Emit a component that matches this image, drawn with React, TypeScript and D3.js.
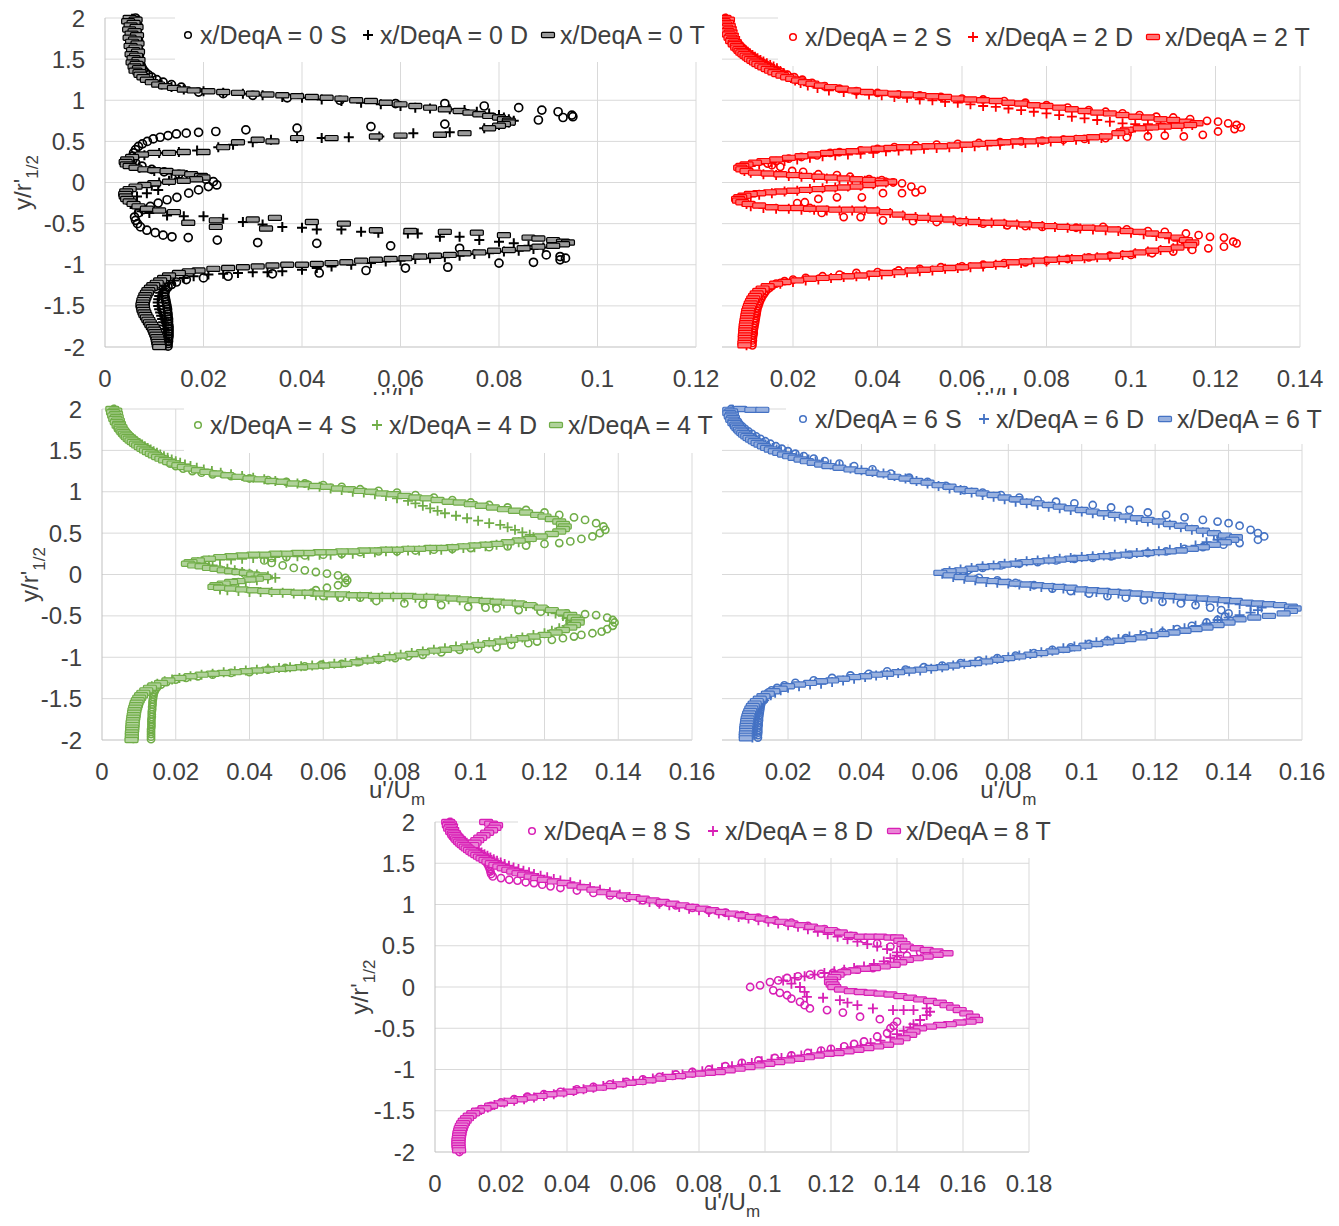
import React from "react";
import * as d3 from "d3";

// Each series: flat list u, y, u, y, ... (u = u'/Um, y = y/r'1/2).

// ---------- x/DeqA = 0 (black) ----------
const S0 = [0.0062,2.00,0.0066,1.97,0.0060,1.94,0.0067,1.91,0.0061,1.88,0.0066,1.85,0.0062,1.82,0.0067,1.79,0.0063,1.76,0.0068,1.73,0.0064,1.70,0.0068,1.67,0.0065,1.64,0.0069,1.61,0.0066,1.58,0.0070,1.55,0.0068,1.52,0.0071,1.49,0.0070,1.46,0.0073,1.43,0.0075,1.40,0.0078,1.37,0.0082,1.34,0.0088,1.31,0.0095,1.28,0.0105,1.25,0.0118,1.22,0.0135,1.19,0.0155,1.16,
0.0190,1.10,0.0240,1.08,0.0300,1.06,0.0370,1.03,0.0477,1.00,0.0590,0.96,0.0690,0.96,0.0770,0.93,0.0840,0.91,0.0887,0.88,0.0920,0.86,0.0948,0.82,0.0950,0.80,0.0930,0.79,0.0880,0.76,0.0690,0.71,0.0540,0.68,0.0390,0.66,0.0286,0.64,0.0225,0.62,0.0190,0.61,0.0165,0.60,0.0145,0.59,0.0128,0.57,0.0112,0.55,0.0098,0.53,0.0086,0.50,0.0076,0.47,0.0068,0.44,0.0062,0.40,0.0058,0.36,0.0056,0.32,0.0057,0.28,0.0062,0.24,0.0075,0.20,0.0095,0.16,0.0120,0.13,0.0150,0.10,0.0180,0.07,0.0205,0.04,0.0220,0.01,0.0227,-0.03,0.0210,-0.05,0.0190,-0.09,0.0170,-0.13,0.0146,-0.18,0.0126,-0.21,0.0108,-0.25,0.0092,-0.29,0.0078,-0.33,0.0068,-0.37,0.0060,-0.42,0.0062,-0.46,0.0066,-0.50,0.0072,-0.54,0.0085,-0.58,0.0102,-0.61,0.0118,-0.64,0.0136,-0.66,0.0169,-0.67,0.0228,-0.70,0.0310,-0.73,0.0430,-0.74,0.0580,-0.77,0.0720,-0.80,0.0896,-0.88,0.0924,-0.90,0.0935,-0.92,0.0924,-0.94,0.0870,-0.97,0.0800,-0.98,0.0696,-1.03,0.0610,-1.04,0.0530,-1.07,0.0435,-1.10,0.0340,-1.11,0.0250,-1.14,0.0200,-1.16,
0.0165,-1.18,0.0145,-1.21,0.0135,-1.24,0.0128,-1.27,0.0124,-1.30,0.0122,-1.33,0.0121,-1.36,0.0122,-1.39,0.0123,-1.42,0.0124,-1.45,0.0125,-1.48,0.0126,-1.51,0.0127,-1.54,0.0127,-1.57,0.0128,-1.60,0.0128,-1.63,0.0129,-1.66,0.0129,-1.69,0.0129,-1.72,0.0130,-1.75,0.0130,-1.78,0.0130,-1.81,0.0130,-1.84,0.0130,-1.87,0.0129,-1.90,0.0129,-1.93,0.0128,-1.96,0.0128,-1.99];
const D0 = [0.0055,1.99,0.0048,1.95,0.0060,1.91,0.0052,1.87,0.0058,1.83,0.0050,1.79,0.0060,1.75,0.0053,1.71,0.0061,1.67,0.0055,1.63,0.0062,1.59,0.0057,1.55,0.0063,1.51,0.0059,1.47,0.0065,1.43,0.0068,1.39,0.0072,1.35,0.0078,1.31,0.0086,1.27,0.0098,1.23,0.0115,1.19,0.0135,1.16,0.0160,1.13,
0.020,1.11,0.024,1.09,0.028,1.08,0.032,1.06,0.036,1.04,0.040,1.03,0.044,1.01,0.048,0.99,0.052,0.97,0.056,0.95,0.060,0.93,0.063,0.91,0.066,0.90,0.070,0.89,0.073,0.88,0.0755,0.86,0.078,0.84,0.080,0.82,0.081,0.79,0.082,0.77,0.083,0.75,0.082,0.73,0.080,0.70,0.077,0.66,
0.070,0.61,0.0626,0.60,0.0557,0.56,0.0495,0.55,0.044,0.54,0.039,0.54,0.0337,0.52,0.030,0.49,0.026,0.46,0.023,0.43,0.0187,0.39,0.015,0.37,0.011,0.36,0.008,0.33,0.006,0.30,0.005,0.26,0.0055,0.22,0.007,0.18,0.010,0.14,0.0135,0.11,0.0166,0.09,0.015,0.05,0.013,0.02,0.011,0.00,0.0095,-0.04,0.0108,-0.09,0.0085,-0.13,0.0065,-0.17,0.005,-0.21,0.0052,-0.26,0.0062,-0.31,0.0075,-0.35,0.009,-0.37,0.0126,-0.40,0.016,-0.41,0.020,-0.41,0.024,-0.44,0.028,-0.48,0.032,-0.51,0.036,-0.54,0.040,-0.55,0.043,-0.57,0.048,-0.57,0.052,-0.60,0.0555,-0.61,0.0615,-0.62,0.0635,-0.62,0.068,-0.66,0.072,-0.66,0.076,-0.70,0.080,-0.72,0.083,-0.74,0.086,-0.77,0.089,-0.79,
0.087,-0.81,0.084,-0.83,0.081,-0.84,0.078,-0.86,0.075,-0.87,0.072,-0.89,0.069,-0.91,0.066,-0.92,0.063,-0.93,0.060,-0.95,0.057,-0.96,0.054,-0.98,0.050,-1.00,0.046,-1.02,0.043,-1.04,0.040,-1.06,0.036,-1.08,0.033,-1.09,0.030,-1.09,0.027,-1.10,0.024,-1.11,0.021,-1.12,0.018,-1.14,0.016,-1.16,0.014,-1.19,
0.0130,-1.22,0.0122,-1.26,0.0116,-1.30,0.0112,-1.34,0.0110,-1.38,0.0108,-1.42,0.0107,-1.46,0.0108,-1.50,0.0110,-1.54,0.0112,-1.58,0.0114,-1.62,0.0116,-1.66,0.0118,-1.70,0.0119,-1.74,0.0120,-1.78,0.0121,-1.82,0.0122,-1.86,0.0122,-1.90,0.0123,-1.94,0.0123,-1.98];
const T0 = [0.0050,2.00,0.0062,1.98,0.0047,1.96,0.0058,1.94,0.0052,1.91,0.0064,1.89,0.0049,1.86,0.0060,1.84,0.0054,1.81,0.0065,1.79,0.0050,1.76,0.0061,1.74,0.0055,1.71,0.0066,1.69,0.0052,1.66,0.0062,1.64,0.0057,1.61,0.0067,1.59,0.0054,1.56,0.0063,1.54,0.0058,1.51,0.0068,1.49,0.0056,1.46,0.0064,1.44,0.0060,1.41,0.0069,1.39,0.0062,1.36,0.0070,1.34,0.0072,1.31,0.0078,1.28,0.0085,1.25,0.0095,1.22,0.0108,1.19,0.0122,1.17,0.0140,1.15,0.0160,1.13,
0.018,1.12,0.021,1.11,0.024,1.10,0.027,1.09,0.030,1.08,0.033,1.07,0.036,1.06,0.039,1.05,0.042,1.04,0.045,1.03,0.048,1.02,0.051,1.00,0.054,0.99,0.057,0.97,0.060,0.95,0.063,0.93,0.066,0.91,0.069,0.89,0.072,0.87,0.074,0.85,0.076,0.83,0.078,0.81,0.080,0.79,0.081,0.77,0.082,0.75,0.082,0.73,0.081,0.71,0.080,0.69,0.078,0.66,
0.073,0.60,0.068,0.58,0.060,0.57,0.055,0.56,0.046,0.54,0.039,0.54,0.034,0.50,0.031,0.52,0.027,0.49,0.024,0.43,0.020,0.37,0.016,0.37,0.013,0.36,0.010,0.36,
0.0075,0.34,0.0055,0.31,0.0045,0.28,0.0042,0.25,0.0044,0.22,0.0050,0.20,0.0062,0.18,0.0080,0.16,0.0100,0.15,0.0125,0.14,0.0150,0.12,0.0175,0.10,0.0195,0.08,0.0200,0.06,0.0185,0.04,0.0160,0.02,0.0130,0.01,0.0100,-0.01,0.0080,-0.03,0.0062,-0.05,0.0050,-0.08,0.0043,-0.11,0.0041,-0.14,0.0042,-0.17,0.0045,-0.20,0.0050,-0.23,0.0058,-0.26,0.0068,-0.29,0.0085,-0.32,0.0110,-0.34,0.0140,-0.36,
0.0169,-0.49,0.0225,-0.46,0.0225,-0.54,0.0300,-0.45,0.0327,-0.56,0.0345,-0.43,0.0420,-0.48,0.0485,-0.50,0.0550,-0.58,0.0620,-0.59,0.0690,-0.60,0.0755,-0.61,0.0810,-0.64,0.0860,-0.67,
0.088,-0.68,0.091,-0.70,0.093,-0.72,0.094,-0.73,0.093,-0.75,0.091,-0.77,0.088,-0.78,0.085,-0.80,0.082,-0.82,0.079,-0.83,0.076,-0.85,0.073,-0.86,0.070,-0.88,0.067,-0.89,0.064,-0.90,0.061,-0.92,0.058,-0.93,0.055,-0.94,0.052,-0.95,0.049,-0.97,0.046,-0.98,0.043,-0.99,0.040,-1.00,0.037,-1.00,0.034,-1.01,0.031,-1.02,0.028,-1.03,0.025,-1.04,0.022,-1.05,0.019,-1.07,0.017,-1.08,0.015,-1.10,0.013,-1.13,
0.0120,-1.16,0.0112,-1.19,0.0105,-1.22,0.0098,-1.25,0.0093,-1.28,0.0088,-1.31,0.0085,-1.34,0.0082,-1.37,0.0080,-1.40,0.0078,-1.43,0.0077,-1.46,0.0076,-1.49,0.0077,-1.52,0.0078,-1.55,0.0080,-1.58,0.0082,-1.61,0.0085,-1.64,0.0088,-1.67,0.0091,-1.70,0.0094,-1.73,0.0097,-1.76,0.0100,-1.79,0.0102,-1.82,0.0104,-1.85,0.0106,-1.88,0.0107,-1.91,0.0108,-1.94,0.0109,-1.97,0.0110,-2.00];

// ---------- x/DeqA = 2 (red) ----------
const S2 = [0.0040,2.00,0.0048,1.97,0.0042,1.94,0.0050,1.91,0.0047,1.88,0.0054,1.85,0.0052,1.82,0.0058,1.79,0.0060,1.76,0.0065,1.73,0.0069,1.70,0.0074,1.67,0.0080,1.64,0.0086,1.61,0.0093,1.58,0.0100,1.55,0.0108,1.52,0.0117,1.49,0.0127,1.46,0.0137,1.43,0.0148,1.40,0.0160,1.37,0.0173,1.34,0.0187,1.31,0.0203,1.28,0.0222,1.25,0.0245,1.21,0.0275,1.17,0.031,1.14,0.035,1.11,
0.040,1.09,0.045,1.07,0.050,1.06,0.055,1.04,0.060,1.02,0.065,1.01,0.070,0.99,0.075,0.97,0.080,0.94,0.085,0.91,0.090,0.88,0.094,0.86,0.098,0.84,0.102,0.82,0.106,0.80,0.110,0.79,0.114,0.77,0.118,0.75,0.1206,0.74,0.123,0.72,0.125,0.70,0.126,0.67,0.1245,0.65,0.1206,0.62,0.117,0.58,0.1125,0.56,0.108,0.57,0.104,0.56,0.099,0.55,
0.094,0.54,0.089,0.53,0.084,0.52,0.079,0.51,0.074,0.50,0.069,0.49,0.064,0.48,0.059,0.47,0.054,0.46,0.049,0.45,0.044,0.43,0.040,0.41,0.036,0.39,0.031,0.37,0.0288,0.36,0.0257,0.33,0.022,0.31,0.019,0.29,0.016,0.26,0.014,0.23,
0.015,0.21,0.017,0.19,0.0198,0.14,0.0224,0.13,0.026,0.10,0.0304,0.09,0.0335,0.07,0.038,0.04,0.041,0.03,0.0437,0.00,0.0458,-0.01,0.048,-0.05,0.0505,-0.09,0.049,-0.12,0.0458,-0.13,0.0413,-0.13,0.0363,-0.18,0.0304,-0.18,0.026,-0.20,0.0228,-0.24,0.021,-0.25,0.024,-0.31,0.0268,-0.37,0.032,-0.42,0.036,-0.42,0.0413,-0.46,0.0484,-0.47,0.054,-0.48,0.0595,-0.48,0.065,-0.50,0.0707,-0.52,0.075,-0.53,0.079,-0.54,0.087,-0.55,0.0934,-0.54,0.099,-0.57,0.104,-0.59,0.108,-0.60,0.113,-0.62,0.116,-0.64,0.1187,-0.66,0.122,-0.67,0.1242,-0.72,0.125,-0.74,0.122,-0.78,0.1183,-0.80,0.1145,-0.82,
0.110,-0.84,0.105,-0.86,0.100,-0.88,0.095,-0.89,0.090,-0.91,0.085,-0.93,0.080,-0.95,0.075,-0.97,0.070,-0.98,0.065,-1.00,0.060,-1.02,0.055,-1.03,0.050,-1.05,0.045,-1.07,0.040,-1.09,0.035,-1.10,0.031,-1.12,0.027,-1.14,0.023,-1.16,0.020,-1.18,0.018,-1.20,0.016,-1.23,
0.0150,-1.26,0.0142,-1.29,0.0136,-1.32,0.0132,-1.35,0.0128,-1.38,0.0125,-1.41,0.0122,-1.44,0.0120,-1.47,0.0118,-1.50,0.0116,-1.53,0.0115,-1.56,0.0114,-1.59,0.0113,-1.62,0.0112,-1.65,0.0111,-1.68,0.0110,-1.71,0.0109,-1.74,0.0108,-1.77,0.0107,-1.80,0.0107,-1.83,0.0106,-1.86,0.0105,-1.89,0.0105,-1.92,0.0104,-1.95,0.0104,-1.98];
const D2 = [0.0042,1.99,0.0050,1.97,0.0044,1.95,0.0052,1.93,0.0047,1.91,0.0055,1.89,0.0050,1.87,0.0057,1.85,0.0053,1.83,0.0060,1.81,0.0057,1.79,0.0063,1.77,0.0062,1.75,0.0067,1.73,0.0068,1.71,0.0072,1.69,0.0075,1.67,0.0079,1.65,0.0083,1.63,0.0088,1.61,0.0093,1.59,0.0098,1.57,0.0104,1.55,0.0110,1.53,0.0116,1.51,0.0123,1.49,0.0130,1.47,0.0138,1.45,0.0146,1.43,0.0154,1.41,0.0162,1.39,0.0170,1.36,0.0178,1.33,0.0186,1.30,0.0195,1.27,0.0205,1.24,0.0218,1.21,0.0235,1.18,0.0258,1.15,0.0285,1.12,
0.032,1.10,0.035,1.08,0.038,1.07,0.041,1.06,0.044,1.04,0.047,1.03,0.050,1.01,0.053,1.00,0.056,0.98,0.059,0.97,0.062,0.95,0.065,0.93,0.068,0.92,0.071,0.90,0.074,0.88,0.077,0.86,0.080,0.84,0.083,0.82,0.086,0.80,0.089,0.78,0.092,0.76,0.095,0.74,0.098,0.72,0.101,0.71,0.104,0.71,0.107,0.72,0.110,0.72,0.113,0.72,0.1145,0.70,0.112,0.68,0.108,0.66,0.104,0.64,0.100,0.62,0.097,0.59,
0.093,0.54,0.090,0.53,0.087,0.52,0.084,0.51,0.081,0.50,0.078,0.49,0.075,0.48,0.072,0.47,0.069,0.46,0.066,0.45,0.063,0.44,0.060,0.43,0.057,0.43,0.054,0.42,0.051,0.41,0.048,0.40,0.045,0.39,0.042,0.38,0.039,0.36,0.036,0.35,0.033,0.34,0.030,0.33,0.027,0.32,0.024,0.30,0.021,0.28,0.018,0.26,0.015,0.24,0.012,0.22,0.010,0.20,0.0085,0.18,0.008,0.16,0.0085,0.14,0.010,0.12,
0.013,0.10,0.016,0.09,0.019,0.08,0.022,0.07,0.025,0.06,0.028,0.05,0.031,0.04,0.034,0.03,0.037,0.02,0.040,0.01,0.042,0.00,0.039,-0.02,0.036,-0.04,0.033,-0.05,0.030,-0.06,0.027,-0.07,0.024,-0.08,0.021,-0.10,0.018,-0.11,0.015,-0.13,0.012,-0.15,0.010,-0.17,0.0085,-0.19,0.0078,-0.21,0.0080,-0.23,0.0090,-0.26,0.0100,-0.29,0.013,-0.31,0.016,-0.32,0.019,-0.32,0.022,-0.33,0.025,-0.33,0.028,-0.34,0.031,-0.34,0.034,-0.34,0.037,-0.34,0.040,-0.35,0.043,-0.37,0.046,-0.40,0.049,-0.42,
0.052,-0.43,0.055,-0.44,0.058,-0.46,0.061,-0.47,0.064,-0.48,0.067,-0.49,0.070,-0.50,0.073,-0.51,0.076,-0.52,0.079,-0.53,0.082,-0.54,0.085,-0.55,0.088,-0.56,0.091,-0.57,0.094,-0.58,0.097,-0.59,0.100,-0.61,0.103,-0.63,0.106,-0.65,0.109,-0.68,0.111,-0.71,0.113,-0.74,0.1135,-0.77,
0.110,-0.80,0.107,-0.82,0.104,-0.84,0.101,-0.86,0.098,-0.88,0.095,-0.90,0.092,-0.91,0.089,-0.92,0.086,-0.93,0.083,-0.94,0.080,-0.96,0.077,-0.97,0.074,-0.98,0.071,-0.99,0.068,-1.00,0.065,-1.02,0.062,-1.03,0.059,-1.04,0.056,-1.05,0.053,-1.07,0.050,-1.08,0.047,-1.09,0.044,-1.10,0.041,-1.12,0.038,-1.13,0.035,-1.14,0.032,-1.15,0.029,-1.16,0.026,-1.18,0.023,-1.19,0.020,-1.21,0.017,-1.23,0.015,-1.26,0.0135,-1.29,
0.0125,-1.32,0.0118,-1.35,0.0113,-1.38,0.0109,-1.41,0.0106,-1.44,0.0104,-1.47,0.0102,-1.50,0.0100,-1.53,0.0099,-1.56,0.0098,-1.59,0.0097,-1.62,0.0096,-1.65,0.0095,-1.68,0.0094,-1.71,0.0094,-1.74,0.0093,-1.77,0.0093,-1.80,0.0092,-1.83,0.0092,-1.86,0.0091,-1.89,0.0091,-1.92,0.0090,-1.95,0.0090,-1.98];
const T2 = [0.0038,2.00,0.0046,1.98,0.0036,1.96,0.0044,1.94,0.0040,1.92,0.0048,1.90,0.0042,1.88,0.0050,1.86,0.0045,1.84,0.0052,1.82,0.0048,1.80,0.0055,1.78,0.0052,1.76,0.0058,1.74,0.0056,1.72,0.0062,1.70,0.0062,1.68,0.0067,1.66,0.0068,1.64,0.0073,1.62,0.0076,1.60,0.0080,1.58,0.0085,1.56,0.0090,1.54,0.0095,1.52,0.0100,1.50,0.0106,1.48,0.0112,1.46,0.0118,1.44,0.0125,1.42,0.0132,1.40,0.0140,1.38,0.0148,1.36,0.0156,1.34,0.0165,1.32,0.0175,1.30,0.0186,1.28,0.0198,1.26,0.0212,1.24,0.0228,1.22,0.0246,1.20,0.0266,1.18,0.0290,1.16,0.0316,1.14,0.0345,1.12,0.0375,1.10,
0.041,1.09,0.044,1.08,0.047,1.07,0.050,1.06,0.053,1.05,0.056,1.04,0.059,1.02,0.062,1.01,0.065,1.00,0.068,0.99,0.071,0.97,0.074,0.96,0.077,0.94,0.080,0.93,0.083,0.91,0.086,0.89,0.089,0.87,0.092,0.85,0.095,0.84,0.098,0.82,0.101,0.80,0.104,0.79,0.107,0.77,0.110,0.76,0.113,0.74,0.1155,0.72,0.114,0.70,0.111,0.69,0.108,0.68,0.105,0.67,0.102,0.66,0.099,0.64,0.098,0.62,0.097,0.60,
0.094,0.56,0.091,0.55,0.088,0.54,0.085,0.53,0.082,0.52,0.079,0.51,0.076,0.50,0.073,0.50,0.070,0.49,0.067,0.48,0.064,0.47,0.061,0.46,0.058,0.45,0.055,0.44,0.052,0.44,0.049,0.43,0.046,0.43,0.043,0.42,0.040,0.41,0.037,0.40,0.034,0.38,0.031,0.37,0.028,0.36,0.025,0.34,0.022,0.32,0.019,0.30,0.016,0.28,0.013,0.26,0.011,0.24,0.009,0.22,0.008,0.20,0.0075,0.18,0.008,0.16,0.009,0.14,
0.011,0.12,0.014,0.11,0.017,0.10,0.020,0.09,0.023,0.08,0.026,0.07,0.029,0.06,0.032,0.05,0.035,0.04,0.038,0.03,0.041,0.02,0.043,0.01,0.041,-0.01,0.038,-0.03,0.035,-0.05,0.032,-0.06,0.029,-0.07,0.026,-0.08,0.023,-0.09,0.020,-0.10,0.017,-0.11,0.0145,-0.12,0.012,-0.13,0.010,-0.14,0.0085,-0.16,0.0075,-0.18,0.007,-0.20,0.0072,-0.22,0.008,-0.24,0.0095,-0.26,0.012,-0.28,0.015,-0.30,0.018,-0.31,0.021,-0.31,0.024,-0.32,0.027,-0.32,0.030,-0.33,0.033,-0.33,0.036,-0.33,0.039,-0.34,0.042,-0.36,0.045,-0.39,0.048,-0.42,
0.051,-0.43,0.054,-0.44,0.057,-0.45,0.060,-0.47,0.063,-0.48,0.066,-0.49,0.069,-0.49,0.072,-0.50,0.075,-0.51,0.078,-0.52,0.081,-0.53,0.084,-0.54,0.087,-0.55,0.090,-0.55,0.093,-0.56,0.096,-0.57,0.099,-0.59,0.102,-0.60,0.105,-0.62,0.108,-0.64,0.111,-0.67,0.113,-0.70,0.1145,-0.73,0.114,-0.76,
0.111,-0.79,0.108,-0.81,0.105,-0.83,0.102,-0.85,0.099,-0.87,0.096,-0.89,0.093,-0.90,0.090,-0.91,0.087,-0.92,0.084,-0.93,0.081,-0.94,0.078,-0.95,0.075,-0.96,0.072,-0.97,0.069,-0.99,0.066,-1.00,0.063,-1.01,0.060,-1.03,0.057,-1.04,0.054,-1.05,0.051,-1.06,0.048,-1.07,0.045,-1.09,0.042,-1.10,0.039,-1.11,0.036,-1.13,0.033,-1.14,0.030,-1.15,0.027,-1.16,0.024,-1.17,0.021,-1.19,0.018,-1.21,0.016,-1.23,0.014,-1.26,
0.0128,-1.29,0.0120,-1.32,0.0114,-1.35,0.0110,-1.38,0.0106,-1.41,0.0103,-1.44,0.0100,-1.47,0.0098,-1.50,0.0096,-1.53,0.0094,-1.56,0.0093,-1.59,0.0092,-1.62,0.0091,-1.65,0.0090,-1.68,0.0089,-1.71,0.0088,-1.74,0.0088,-1.77,0.0087,-1.80,0.0087,-1.83,0.0086,-1.86,0.0086,-1.89,0.0086,-1.92,0.0085,-1.95,0.0085,-1.98];

// ---------- x/DeqA = 4 (green) ----------
const S4 = [0.0032,2.00,0.0038,1.97,0.0034,1.94,0.0041,1.91,0.0040,1.88,0.0046,1.85,0.0048,1.82,0.0053,1.79,0.0058,1.76,0.0064,1.73,0.0070,1.70,0.0077,1.67,0.0085,1.64,0.0093,1.61,0.0102,1.58,0.0112,1.55,0.0122,1.52,0.0133,1.49,0.0144,1.46,0.0155,1.43,0.0165,1.40,0.0175,1.37,0.0185,1.34,0.0200,1.31,0.0220,1.28,0.0245,1.25,0.027,1.23,0.030,1.21,
0.035,1.19,0.040,1.16,0.045,1.14,0.050,1.12,0.055,1.10,0.060,1.08,0.065,1.06,0.070,1.03,0.075,1.01,0.080,0.99,0.085,0.96,0.090,0.93,0.095,0.90,0.100,0.87,0.105,0.84,0.110,0.81,0.115,0.78,0.120,0.75,0.124,0.72,0.128,0.69,0.131,0.66,0.134,0.62,0.136,0.58,0.1365,0.54,0.135,0.50,0.133,0.46,0.130,0.43,0.127,0.40,0.124,0.38,0.120,0.37,
0.115,0.35,0.110,0.34,0.105,0.33,0.100,0.32,0.095,0.31,0.090,0.30,0.085,0.29,0.080,0.28,0.075,0.28,0.070,0.27,0.065,0.25,0.060,0.24,0.055,0.23,0.050,0.21,0.046,0.20,0.044,0.17,
0.046,0.14,0.049,0.11,0.052,0.08,0.055,0.05,0.058,0.03,0.061,0.01,0.064,-0.01,0.066,-0.04,0.0665,-0.07,0.066,-0.10,0.064,-0.13,0.061,-0.16,0.058,-0.19,0.057,-0.22,0.060,-0.26,0.0646,-0.28,0.070,-0.28,0.0744,-0.32,0.082,-0.35,0.087,-0.36,0.092,-0.37,0.0993,-0.39,0.104,-0.40,0.107,-0.41,0.113,-0.43,0.119,-0.45,0.126,-0.47,0.131,-0.48,0.134,-0.49,0.137,-0.52,0.1385,-0.55,0.139,-0.58,0.1385,-0.62,0.137,-0.66,0.1355,-0.69,0.133,-0.71,0.130,-0.73,0.128,-0.75,
0.125,-0.77,0.122,-0.79,0.118,-0.81,0.1156,-0.83,0.111,-0.85,0.107,-0.88,0.102,-0.90,0.097,-0.91,0.092,-0.94,0.087,-0.97,0.083,-0.99,0.0795,-1.01,0.075,-1.03,0.0695,-1.06,0.065,-1.08,0.0595,-1.09,0.055,-1.11,0.0497,-1.13,0.045,-1.15,0.040,-1.18,0.035,-1.19,0.030,-1.21,0.026,-1.23,0.0228,-1.25,0.020,-1.27,0.0175,-1.30,
0.0160,-1.33,0.0150,-1.36,0.0145,-1.39,0.0142,-1.42,0.0140,-1.45,0.0139,-1.48,0.0138,-1.51,0.0137,-1.54,0.0137,-1.57,0.0136,-1.60,0.0136,-1.63,0.0135,-1.66,0.0135,-1.69,0.0135,-1.72,0.0134,-1.75,0.0134,-1.78,0.0134,-1.81,0.0134,-1.84,0.0133,-1.87,0.0133,-1.90,0.0133,-1.93,0.0133,-1.96,0.0133,-1.99];
const D4 = [0.0034,1.99,0.0040,1.97,0.0035,1.95,0.0042,1.93,0.0038,1.91,0.0045,1.89,0.0042,1.87,0.0048,1.85,0.0047,1.83,0.0052,1.81,0.0053,1.79,0.0057,1.77,0.0060,1.75,0.0064,1.73,0.0068,1.71,0.0073,1.69,0.0078,1.67,0.0083,1.65,0.0089,1.63,0.0095,1.61,0.0102,1.59,0.0109,1.57,0.0116,1.55,0.0124,1.53,0.0132,1.51,0.0140,1.49,0.0149,1.47,0.0158,1.45,0.0168,1.43,0.0178,1.41,0.0189,1.39,0.0200,1.37,0.0212,1.35,0.0225,1.33,0.0240,1.31,0.0257,1.29,0.0276,1.27,0.0298,1.25,0.0322,1.23,0.035,1.21,
0.038,1.19,0.041,1.17,0.044,1.15,0.047,1.13,0.050,1.11,0.053,1.10,0.056,1.08,0.059,1.06,0.062,1.04,0.065,1.02,0.068,1.00,0.071,0.99,0.074,0.97,0.077,0.95,0.080,0.92,0.083,0.89,0.085,0.86,0.087,0.83,0.089,0.80,0.091,0.77,0.093,0.74,0.096,0.71,0.099,0.68,0.102,0.65,0.105,0.62,0.108,0.60,0.110,0.57,0.112,0.54,0.114,0.51,0.116,0.48,0.117,0.45,0.116,0.42,
0.113,0.39,0.110,0.37,0.107,0.36,0.104,0.34,0.101,0.33,0.098,0.32,0.095,0.31,0.092,0.30,0.089,0.30,0.086,0.29,0.083,0.29,0.080,0.28,0.077,0.28,0.074,0.27,0.071,0.26,0.068,0.25,0.065,0.25,0.062,0.24,0.059,0.24,0.056,0.23,0.053,0.22,0.050,0.22,0.047,0.21,0.044,0.20,0.041,0.20,0.038,0.19,0.035,0.18,0.032,0.18,0.029,0.17,0.027,0.16,0.026,0.15,
0.028,0.13,0.030,0.11,0.032,0.09,0.034,0.07,0.036,0.05,0.038,0.03,0.040,0.01,0.042,0.00,0.045,-0.02,0.047,-0.04,0.045,-0.05,0.042,-0.07,0.039,-0.09,0.037,-0.10,0.035,-0.12,0.033,-0.14,0.032,-0.16,0.032,-0.18,0.034,-0.19,0.037,-0.20,0.040,-0.21,0.043,-0.21,0.046,-0.21,0.049,-0.22,0.052,-0.23,0.055,-0.24,0.058,-0.25,0.061,-0.25,0.064,-0.26,0.067,-0.26,0.070,-0.27,0.073,-0.27,0.076,-0.27,0.079,-0.27,0.082,-0.28,0.085,-0.28,0.088,-0.28,0.091,-0.29,0.094,-0.30,0.097,-0.31,0.100,-0.32,0.103,-0.33,0.106,-0.34,0.109,-0.35,0.112,-0.36,0.115,-0.38,0.118,-0.41,0.121,-0.44,0.123,-0.47,0.125,-0.50,0.126,-0.53,0.127,-0.56,0.127,-0.59,0.126,-0.62,0.124,-0.65,0.122,-0.68,0.120,-0.71,
0.117,-0.73,0.114,-0.76,0.111,-0.78,0.108,-0.80,0.105,-0.82,0.102,-0.84,0.099,-0.86,0.096,-0.87,0.093,-0.89,0.090,-0.91,0.087,-0.93,0.084,-0.95,0.081,-0.97,0.078,-0.99,0.075,-1.01,0.072,-1.03,0.069,-1.05,0.066,-1.07,0.063,-1.08,0.060,-1.09,0.057,-1.10,0.054,-1.11,0.051,-1.12,0.048,-1.13,0.045,-1.14,0.042,-1.15,0.039,-1.16,0.036,-1.17,0.033,-1.18,0.030,-1.20,0.027,-1.21,0.024,-1.23,0.021,-1.25,0.019,-1.27,0.017,-1.29,0.015,-1.32,
0.0135,-1.35,0.0124,-1.38,0.0115,-1.41,0.0108,-1.44,0.0103,-1.47,0.0099,-1.50,0.0096,-1.53,0.0094,-1.56,0.0092,-1.59,0.0091,-1.62,0.0090,-1.65,0.0089,-1.68,0.0088,-1.71,0.0088,-1.74,0.0087,-1.77,0.0087,-1.80,0.0086,-1.83,0.0086,-1.86,0.0086,-1.89,0.0085,-1.92,0.0085,-1.95,0.0085,-1.98];
const T4 = [0.0028,2.00,0.0036,1.98,0.0030,1.96,0.0038,1.94,0.0033,1.92,0.0040,1.90,0.0036,1.88,0.0043,1.86,0.0040,1.84,0.0046,1.82,0.0045,1.80,0.0050,1.78,0.0051,1.76,0.0055,1.74,0.0058,1.72,0.0062,1.70,0.0066,1.68,0.0070,1.66,0.0075,1.64,0.0080,1.62,0.0086,1.60,0.0092,1.58,0.0098,1.56,0.0105,1.54,0.0112,1.52,0.0119,1.50,0.0127,1.48,0.0135,1.46,0.0143,1.44,0.0152,1.42,0.0161,1.40,0.0171,1.38,0.0182,1.36,0.0194,1.34,0.0207,1.32,0.0222,1.30,0.0240,1.28,0.0260,1.26,0.0283,1.24,0.031,1.22,0.034,1.20,0.037,1.18,
0.040,1.16,0.043,1.15,0.046,1.13,0.049,1.12,0.052,1.10,0.055,1.09,0.058,1.07,0.061,1.06,0.064,1.04,0.067,1.03,0.070,1.01,0.073,1.00,0.076,0.98,0.079,0.97,0.082,0.95,0.085,0.93,0.088,0.92,0.091,0.90,0.094,0.88,0.097,0.87,0.100,0.85,0.103,0.83,0.106,0.81,0.109,0.79,0.112,0.77,0.115,0.75,0.118,0.72,0.120,0.70,0.122,0.67,0.124,0.64,0.125,0.61,0.1255,0.58,0.125,0.55,0.124,0.52,0.122,0.49,0.119,0.46,
0.116,0.43,0.113,0.41,0.110,0.39,0.107,0.37,0.104,0.36,0.101,0.35,0.098,0.34,0.095,0.33,0.092,0.32,0.089,0.32,0.086,0.31,0.083,0.31,0.080,0.30,0.077,0.30,0.074,0.29,0.071,0.29,0.068,0.28,0.065,0.28,0.062,0.27,0.059,0.27,0.056,0.26,0.053,0.26,0.050,0.25,0.047,0.25,0.044,0.24,0.041,0.24,0.038,0.23,0.035,0.22,0.032,0.21,0.029,0.19,0.026,0.17,0.024,0.15,0.0233,0.13,
0.025,0.11,0.027,0.10,0.029,0.08,0.031,0.07,0.033,0.05,0.035,0.04,0.037,0.03,0.039,0.02,0.041,0.00,0.043,-0.01,0.044,-0.03,0.042,-0.05,0.040,-0.06,0.037,-0.08,0.035,-0.09,0.033,-0.11,0.031,-0.13,0.0305,-0.15,0.032,-0.16,0.035,-0.17,0.038,-0.18,0.041,-0.19,0.044,-0.20,0.047,-0.21,0.050,-0.21,0.053,-0.22,0.056,-0.22,0.059,-0.23,0.062,-0.24,0.065,-0.24,0.068,-0.25,0.071,-0.25,0.074,-0.26,0.077,-0.26,0.080,-0.26,0.083,-0.26,0.086,-0.27,0.089,-0.27,0.092,-0.28,0.095,-0.29,0.098,-0.30,0.101,-0.31,0.104,-0.32,0.107,-0.33,0.110,-0.34,0.113,-0.35,0.116,-0.37,0.119,-0.40,0.122,-0.43,0.125,-0.46,0.127,-0.49,0.128,-0.52,0.129,-0.55,0.129,-0.58,0.128,-0.61,0.127,-0.64,0.125,-0.67,0.123,-0.70,
0.120,-0.73,0.117,-0.75,0.114,-0.77,0.111,-0.79,0.108,-0.81,0.105,-0.83,0.102,-0.85,0.099,-0.87,0.096,-0.89,0.093,-0.91,0.090,-0.92,0.087,-0.94,0.084,-0.96,0.081,-0.98,0.078,-1.00,0.075,-1.02,0.072,-1.04,0.069,-1.06,0.066,-1.08,0.063,-1.09,0.060,-1.10,0.057,-1.11,0.054,-1.12,0.051,-1.13,0.048,-1.14,0.045,-1.15,0.042,-1.16,0.039,-1.17,0.036,-1.18,0.033,-1.19,0.030,-1.20,0.027,-1.21,0.024,-1.23,0.021,-1.25,0.018,-1.28,0.016,-1.31,
0.0142,-1.34,0.0130,-1.37,0.0120,-1.40,0.0112,-1.43,0.0106,-1.46,0.0101,-1.49,0.0097,-1.52,0.0094,-1.55,0.0092,-1.58,0.0090,-1.61,0.0088,-1.64,0.0087,-1.67,0.0086,-1.70,0.0085,-1.73,0.0084,-1.76,0.0083,-1.79,0.0083,-1.82,0.0082,-1.85,0.0082,-1.88,0.0081,-1.91,0.0081,-1.94,0.0081,-1.97,0.0080,-2.00];

// ---------- x/DeqA = 6 (blue) ----------
const S6 = [0.0045,2.00,0.0050,1.97,0.0048,1.94,0.0055,1.91,0.0057,1.88,0.0063,1.85,0.0068,1.82,0.0075,1.79,0.0083,1.76,0.0092,1.73,0.0102,1.70,0.0113,1.67,0.0125,1.64,0.0138,1.61,0.0152,1.58,0.0167,1.55,0.0183,1.52,0.0200,1.49,0.0220,1.46,0.0243,1.43,0.027,1.40,0.030,1.37,0.034,1.34,0.038,1.31,
0.043,1.27,0.048,1.22,0.053,1.17,0.058,1.12,0.063,1.07,0.068,1.02,0.073,0.99,0.078,0.96,0.083,0.93,0.088,0.90,0.093,0.88,0.098,0.86,0.103,0.84,0.108,0.81,0.113,0.78,0.118,0.75,0.123,0.72,0.128,0.69,0.133,0.66,0.137,0.64,0.140,0.62,0.143,0.59,0.146,0.54,0.148,0.50,0.1497,0.46,0.148,0.42,0.143,0.38,0.1386,0.36,
0.133,0.33,0.128,0.31,0.123,0.28,0.118,0.26,0.113,0.24,0.108,0.22,0.103,0.20,0.098,0.19,0.093,0.17,0.088,0.15,0.083,0.13,0.078,0.11,0.073,0.08,0.069,0.05,0.066,0.03,0.068,0.00,
0.072,-0.04,0.077,-0.07,0.082,-0.10,0.087,-0.13,0.092,-0.17,0.097,-0.20,0.102,-0.23,0.107,-0.26,0.112,-0.28,0.117,-0.31,0.122,-0.33,0.127,-0.35,0.131,-0.37,0.135,-0.40,0.138,-0.43,0.140,-0.47,0.139,-0.51,0.137,-0.55,
0.134,-0.58,0.130,-0.62,0.126,-0.66,0.122,-0.70,0.117,-0.73,0.112,-0.77,0.107,-0.80,0.102,-0.84,0.097,-0.88,0.092,-0.91,0.087,-0.95,0.082,-0.98,0.077,-1.01,0.072,-1.04,0.067,-1.07,0.062,-1.10,0.057,-1.12,0.052,-1.15,0.047,-1.17,0.042,-1.20,0.037,-1.22,0.032,-1.25,0.027,-1.28,0.022,-1.31,0.019,-1.34,0.017,-1.37,
0.0155,-1.40,0.0145,-1.43,0.0138,-1.46,0.0133,-1.49,0.0130,-1.52,0.0128,-1.55,0.0126,-1.58,0.0125,-1.61,0.0124,-1.64,0.0123,-1.67,0.0122,-1.70,0.0121,-1.73,0.0121,-1.76,0.0120,-1.79,0.0120,-1.82,0.0119,-1.85,0.0119,-1.88,0.0119,-1.91,0.0118,-1.94,0.0118,-1.97];
const D6 = [0.0050,1.99,0.0045,1.97,0.0052,1.95,0.0049,1.93,0.0055,1.91,0.0053,1.89,0.0059,1.87,0.0059,1.85,0.0064,1.83,0.0066,1.81,0.0070,1.79,0.0074,1.77,0.0078,1.75,0.0083,1.73,0.0088,1.71,0.0094,1.69,0.0100,1.67,0.0107,1.65,0.0114,1.63,0.0122,1.61,0.0130,1.59,0.0139,1.57,0.0148,1.55,0.0158,1.53,0.0169,1.51,0.0181,1.49,0.0194,1.47,0.0208,1.45,0.0223,1.43,0.0239,1.41,0.0256,1.39,0.0275,1.37,0.0295,1.35,0.0316,1.33,0.034,1.31,
0.037,1.28,0.040,1.26,0.043,1.24,0.046,1.22,0.049,1.19,0.052,1.16,0.055,1.13,0.058,1.10,0.061,1.07,0.064,1.04,0.067,1.02,0.070,0.99,0.073,0.96,0.076,0.94,0.079,0.91,0.082,0.88,0.085,0.86,0.088,0.84,0.091,0.82,0.094,0.80,0.097,0.78,0.100,0.76,0.103,0.74,0.106,0.72,0.109,0.70,0.112,0.68,0.115,0.66,0.118,0.64,0.121,0.62,0.124,0.60,0.127,0.57,0.130,0.54,0.133,0.51,0.136,0.48,0.138,0.45,0.137,0.42,0.134,0.39,0.131,0.35,0.127,0.32,
0.124,0.30,0.121,0.28,0.118,0.27,0.115,0.26,0.112,0.25,0.109,0.24,0.106,0.23,0.103,0.22,0.100,0.21,0.097,0.20,0.094,0.19,0.091,0.18,0.088,0.17,0.085,0.16,0.082,0.14,0.079,0.13,0.076,0.11,0.073,0.10,0.070,0.08,0.067,0.06,0.064,0.04,0.062,0.01,
0.065,-0.03,0.068,-0.05,0.071,-0.07,0.074,-0.09,0.077,-0.10,0.080,-0.11,0.083,-0.12,0.086,-0.14,0.089,-0.15,0.092,-0.16,0.095,-0.17,0.098,-0.19,0.101,-0.20,0.104,-0.21,0.107,-0.22,0.110,-0.23,0.113,-0.24,0.116,-0.26,0.119,-0.27,0.122,-0.28,0.125,-0.29,0.128,-0.30,0.131,-0.31,0.134,-0.32,0.137,-0.33,0.140,-0.35,0.143,-0.36,0.146,-0.38,0.149,-0.40,0.148,-0.43,0.146,-0.46,0.143,-0.49,0.140,-0.52,0.137,-0.55,
0.134,-0.59,0.131,-0.62,0.128,-0.65,0.125,-0.67,0.122,-0.69,0.119,-0.71,0.116,-0.73,0.113,-0.75,0.110,-0.78,0.107,-0.80,0.104,-0.82,0.101,-0.85,0.098,-0.87,0.095,-0.89,0.092,-0.92,0.089,-0.94,0.086,-0.96,0.083,-0.98,0.080,-1.00,0.077,-1.02,0.074,-1.04,0.071,-1.06,0.068,-1.08,0.065,-1.10,0.062,-1.12,0.059,-1.14,0.056,-1.16,0.053,-1.17,0.050,-1.19,0.047,-1.21,0.044,-1.22,0.041,-1.24,0.038,-1.26,0.035,-1.28,0.032,-1.30,0.029,-1.32,0.026,-1.33,0.023,-1.35,0.020,-1.37,0.018,-1.40,
0.0165,-1.43,0.0153,-1.46,0.0143,-1.49,0.0135,-1.52,0.0129,-1.55,0.0124,-1.58,0.0120,-1.61,0.0117,-1.64,0.0114,-1.67,0.0112,-1.70,0.0110,-1.73,0.0109,-1.76,0.0108,-1.79,0.0107,-1.82,0.0106,-1.85,0.0105,-1.88,0.0104,-1.91,0.0104,-1.94,0.0103,-1.97];
const T6 = [0.0040,1.99,0.0070,2.00,0.0100,1.99,0.0130,1.99,0.0045,1.97,0.0040,1.95,0.0047,1.93,0.0044,1.91,0.0050,1.89,0.0048,1.87,0.0054,1.85,0.0054,1.83,0.0059,1.81,0.0061,1.79,0.0065,1.77,0.0069,1.75,0.0073,1.73,0.0078,1.71,0.0083,1.69,0.0089,1.67,0.0095,1.65,0.0102,1.63,0.0109,1.61,0.0117,1.59,0.0125,1.57,0.0134,1.55,0.0143,1.53,0.0153,1.51,0.0164,1.49,0.0176,1.47,0.0189,1.45,0.0203,1.43,0.0218,1.41,0.0234,1.39,0.0251,1.37,0.027,1.35,0.029,1.33,0.031,1.31,
0.034,1.29,0.037,1.27,0.040,1.25,0.043,1.23,0.046,1.21,0.049,1.18,0.052,1.16,0.055,1.13,0.058,1.11,0.061,1.08,0.064,1.06,0.067,1.03,0.070,1.01,0.073,0.98,0.076,0.96,0.079,0.93,0.082,0.91,0.085,0.88,0.088,0.86,0.091,0.84,0.094,0.82,0.097,0.80,0.100,0.78,0.103,0.76,0.106,0.74,0.109,0.72,0.112,0.70,0.115,0.68,0.118,0.66,0.121,0.64,0.124,0.61,0.127,0.59,0.130,0.56,0.133,0.53,0.136,0.50,0.139,0.47,0.142,0.45,0.141,0.42,0.139,0.39,0.136,0.36,0.133,0.33,
0.130,0.31,0.127,0.29,0.124,0.28,0.121,0.27,0.118,0.26,0.115,0.25,0.112,0.24,0.109,0.23,0.106,0.22,0.103,0.21,0.100,0.20,0.097,0.19,0.094,0.18,0.091,0.17,0.088,0.16,0.085,0.15,0.082,0.13,0.079,0.12,0.076,0.10,0.073,0.09,0.070,0.07,0.067,0.05,0.064,0.04,0.0615,0.02,
0.064,-0.01,0.067,-0.03,0.070,-0.05,0.073,-0.07,0.076,-0.08,0.079,-0.09,0.082,-0.11,0.085,-0.12,0.088,-0.13,0.091,-0.14,0.094,-0.15,0.097,-0.16,0.100,-0.18,0.103,-0.19,0.106,-0.20,0.109,-0.21,0.112,-0.22,0.115,-0.23,0.118,-0.24,0.121,-0.25,0.124,-0.26,0.127,-0.27,0.130,-0.28,0.133,-0.29,0.136,-0.30,0.139,-0.31,0.142,-0.32,0.145,-0.34,0.148,-0.35,0.151,-0.36,0.154,-0.37,0.157,-0.39,0.158,-0.41,0.157,-0.44,0.155,-0.47,0.151,-0.50,0.147,-0.52,0.143,-0.54,
0.140,-0.58,0.137,-0.61,0.134,-0.64,0.131,-0.66,0.128,-0.68,0.125,-0.70,0.122,-0.72,0.119,-0.74,0.116,-0.76,0.113,-0.78,0.110,-0.80,0.107,-0.82,0.104,-0.84,0.101,-0.86,0.098,-0.89,0.095,-0.91,0.092,-0.93,0.089,-0.95,0.086,-0.97,0.083,-0.99,0.080,-1.01,0.077,-1.03,0.074,-1.05,0.071,-1.07,0.068,-1.08,0.065,-1.10,0.062,-1.12,0.059,-1.13,0.056,-1.15,0.053,-1.16,0.050,-1.18,0.047,-1.20,0.044,-1.21,0.041,-1.23,0.038,-1.24,0.035,-1.26,0.032,-1.28,0.029,-1.29,0.026,-1.31,0.023,-1.33,0.020,-1.35,0.018,-1.38,
0.0160,-1.41,0.0145,-1.44,0.0133,-1.47,0.0123,-1.50,0.0115,-1.53,0.0109,-1.56,0.0104,-1.59,0.0100,-1.62,0.0097,-1.65,0.0094,-1.68,0.0092,-1.71,0.0090,-1.74,0.0089,-1.77,0.0088,-1.80,0.0087,-1.83,0.0086,-1.86,0.0086,-1.89,0.0085,-1.92,0.0085,-1.95,0.0085,-1.98];

// ---------- x/DeqA = 8 (magenta) ----------
const S8 = [0.0045,2.00,0.0050,1.97,0.0048,1.94,0.0055,1.91,0.0058,1.88,0.0064,1.85,0.0070,1.82,0.0077,1.79,0.0085,1.76,0.0094,1.73,0.0104,1.70,0.0114,1.67,0.0124,1.64,0.0133,1.61,0.0141,1.58,0.0148,1.55,0.0154,1.52,0.0159,1.49,0.0163,1.46,0.0166,1.43,0.0168,1.40,0.0170,1.37,
0.0175,1.34,0.0200,1.32,0.0225,1.30,0.0250,1.29,0.0275,1.27,0.0300,1.26,0.0325,1.24,0.0350,1.22,0.0380,1.20,
0.043,1.17,0.048,1.14,0.053,1.11,0.058,1.08,0.063,1.05,0.068,1.02,0.073,0.99,0.078,0.96,0.083,0.93,0.088,0.90,0.093,0.87,0.098,0.84,0.103,0.81,0.108,0.78,0.113,0.74,0.118,0.70,0.122,0.66,0.126,0.62,0.130,0.58,0.134,0.53,0.138,0.49,0.142,0.46,0.147,0.42,0.143,0.38,0.140,0.33,0.137,0.27,0.1327,0.23,0.128,0.21,0.124,0.19,0.1206,0.17,0.117,0.16,0.1136,0.15,0.110,0.13,0.1067,0.11,0.104,0.08,0.1015,0.06,0.0985,0.02,0.0955,0.00,0.1025,-0.04,0.1045,-0.07,0.1067,-0.10,0.108,-0.14,0.1106,-0.18,0.112,-0.22,0.1136,-0.26,0.1188,-0.28,0.1236,-0.31,0.1288,-0.36,0.1348,-0.39,0.1400,-0.42,0.139,-0.47,0.138,-0.50,0.137,-0.56,0.134,-0.60,0.130,-0.66,0.127,-0.69,0.124,-0.72,0.120,-0.75,0.117,-0.77,
0.113,-0.80,0.108,-0.83,0.103,-0.86,0.098,-0.89,0.093,-0.92,0.088,-0.96,0.083,-1.00,0.078,-1.03,0.073,-1.06,0.068,-1.09,0.063,-1.12,0.058,-1.15,0.053,-1.18,0.048,-1.21,0.043,-1.24,0.038,-1.27,0.033,-1.30,0.028,-1.33,0.024,-1.36,0.020,-1.40,0.017,-1.44,0.014,-1.48,
0.0120,-1.52,0.0105,-1.56,0.0095,-1.60,0.0088,-1.64,0.0083,-1.68,0.0080,-1.72,0.0077,-1.76,0.0075,-1.80,0.0074,-1.84,0.0073,-1.88,0.0073,-1.92,0.0073,-1.96,0.0074,-2.00];
const D8 = [0.0050,1.99,0.0055,1.97,0.0052,1.95,0.0058,1.93,0.0058,1.91,0.0063,1.89,0.0065,1.87,0.0070,1.85,0.0074,1.83,0.0079,1.81,0.0084,1.79,0.0090,1.77,0.0096,1.75,0.0103,1.73,0.0110,1.71,0.0117,1.69,0.0125,1.67,0.0133,1.65,0.0141,1.63,0.0150,1.61,0.0159,1.59,0.0168,1.57,0.0178,1.55,0.0188,1.53,0.0199,1.51,0.0211,1.49,0.0224,1.47,0.0238,1.45,0.0253,1.43,0.0268,1.41,0.0285,1.39,0.030,1.37,0.032,1.35,0.034,1.33,0.036,1.31,0.038,1.29,0.041,1.27,
0.044,1.24,0.047,1.21,0.050,1.18,0.053,1.15,0.056,1.12,0.059,1.09,0.062,1.06,0.065,1.03,0.068,1.01,0.071,0.99,0.074,0.97,0.077,0.95,0.080,0.93,0.083,0.91,0.086,0.89,0.089,0.87,0.092,0.85,0.095,0.83,0.098,0.81,0.101,0.79,0.104,0.77,0.107,0.75,0.110,0.73,0.113,0.70,0.116,0.67,0.119,0.64,0.122,0.61,0.125,0.58,0.128,0.55,0.131,0.52,0.134,0.49,0.137,0.46,0.140,0.42,0.140,0.38,0.138,0.35,0.136,0.31,0.133,0.28,0.130,0.25,
0.127,0.23,0.124,0.21,0.121,0.19,0.118,0.17,0.115,0.15,0.112,0.13,0.109,0.11,0.1055,0.08,0.108,0.04,0.1106,0.00,0.112,-0.06,0.1127,-0.12,0.1176,-0.13,0.1227,-0.16,0.125,-0.19,0.128,-0.22,0.1327,-0.26,0.1388,-0.28,0.142,-0.28,0.1450,-0.28,0.1490,-0.26,0.150,-0.30,0.149,-0.34,0.147,-0.40,0.145,-0.45,0.144,-0.49,0.142,-0.53,0.140,-0.57,0.138,-0.61,0.135,-0.65,0.132,-0.68,0.129,-0.71,0.126,-0.73,0.123,-0.75,
0.120,-0.77,0.117,-0.79,0.114,-0.81,0.111,-0.83,0.108,-0.84,0.105,-0.86,0.102,-0.88,0.099,-0.90,0.096,-0.92,0.093,-0.94,0.090,-0.96,0.087,-0.98,0.084,-1.00,0.081,-1.02,0.078,-1.04,0.075,-1.06,0.072,-1.07,0.069,-1.09,0.066,-1.11,0.063,-1.13,0.060,-1.14,0.057,-1.16,0.054,-1.18,0.051,-1.20,0.048,-1.22,0.045,-1.24,0.042,-1.26,0.039,-1.28,0.036,-1.30,0.033,-1.32,0.030,-1.34,0.027,-1.36,0.024,-1.38,0.021,-1.40,0.018,-1.43,0.016,-1.46,
0.0140,-1.49,0.0125,-1.52,0.0113,-1.55,0.0104,-1.58,0.0097,-1.61,0.0092,-1.64,0.0088,-1.67,0.0085,-1.70,0.0083,-1.73,0.0081,-1.76,0.0080,-1.79,0.0079,-1.82,0.0078,-1.85,0.0077,-1.88,0.0077,-1.91,0.0076,-1.94,0.0076,-1.97];
const T8 = [0.0155,2.00,0.0170,1.98,0.0185,1.96,0.0180,1.93,0.0170,1.90,0.0158,1.87,0.0147,1.84,0.0137,1.81,0.0128,1.78,0.0120,1.75,0.0113,1.72,
0.0040,2.00,0.0045,1.98,0.0042,1.96,0.0048,1.94,0.0046,1.92,0.0052,1.90,0.0052,1.88,0.0057,1.86,0.0059,1.84,0.0063,1.82,0.0067,1.80,0.0071,1.78,0.0076,1.76,0.0081,1.74,0.0087,1.72,0.0093,1.70,0.0099,1.68,0.0106,1.66,0.0113,1.64,0.0120,1.62,0.0128,1.60,0.0136,1.58,0.0144,1.56,0.0153,1.54,0.0162,1.52,0.0172,1.50,0.0183,1.48,0.0195,1.46,0.0208,1.44,0.0222,1.42,0.0237,1.40,0.0253,1.38,0.027,1.36,0.029,1.34,0.031,1.32,0.033,1.30,0.036,1.28,0.039,1.26,
0.042,1.23,0.045,1.21,0.048,1.18,0.051,1.15,0.054,1.13,0.057,1.11,0.060,1.09,0.063,1.07,0.066,1.05,0.069,1.03,0.072,1.01,0.075,0.99,0.078,0.97,0.081,0.95,0.084,0.93,0.087,0.91,0.090,0.89,0.093,0.87,0.096,0.85,0.099,0.83,0.102,0.81,0.105,0.79,0.108,0.77,0.111,0.75,0.114,0.73,0.117,0.71,0.120,0.69,0.123,0.66,0.126,0.63,0.129,0.61,0.132,0.61,0.135,0.61,0.138,0.60,0.140,0.60,0.141,0.56,0.142,0.52,0.143,0.49,0.146,0.47,0.149,0.45,0.152,0.43,0.155,0.41,0.152,0.39,0.149,0.37,0.146,0.35,0.143,0.33,0.141,0.30,0.139,0.27,0.136,0.25,
0.133,0.23,0.130,0.22,0.127,0.20,0.124,0.18,0.122,0.15,0.121,0.12,0.120,0.09,0.120,0.06,0.1205,0.03,0.121,0.00,0.123,-0.03,0.126,-0.05,0.129,-0.06,0.132,-0.07,0.135,-0.08,0.138,-0.09,0.141,-0.11,0.144,-0.13,0.147,-0.15,0.150,-0.17,0.153,-0.19,0.155,-0.22,0.157,-0.25,0.159,-0.28,0.161,-0.32,0.163,-0.36,0.164,-0.40,0.162,-0.42,0.159,-0.43,0.156,-0.45,0.153,-0.46,0.150,-0.48,0.147,-0.50,0.145,-0.54,0.144,-0.58,0.142,-0.62,0.140,-0.66,0.137,-0.70,0.134,-0.72,0.131,-0.74,0.128,-0.76,0.125,-0.78,
0.122,-0.80,0.119,-0.81,0.116,-0.83,0.113,-0.85,0.110,-0.87,0.107,-0.89,0.104,-0.91,0.101,-0.93,0.098,-0.95,0.095,-0.97,0.092,-0.99,0.089,-1.01,0.086,-1.03,0.083,-1.04,0.080,-1.05,0.077,-1.06,0.074,-1.08,0.071,-1.09,0.068,-1.11,0.065,-1.13,0.062,-1.15,0.059,-1.16,0.056,-1.18,0.053,-1.20,0.050,-1.22,0.047,-1.23,0.044,-1.25,0.041,-1.27,0.038,-1.29,0.035,-1.30,0.032,-1.32,0.029,-1.34,0.026,-1.36,0.023,-1.38,0.020,-1.41,0.017,-1.44,0.015,-1.47,
0.0130,-1.50,0.0116,-1.53,0.0105,-1.56,0.0097,-1.59,0.0090,-1.62,0.0085,-1.65,0.0081,-1.68,0.0078,-1.71,0.0076,-1.74,0.0074,-1.77,0.0073,-1.80,0.0072,-1.83,0.0071,-1.86,0.0071,-1.89,0.0071,-1.92,0.0072,-1.95,0.0073,-1.98];

// ---------- axes / labels ----------
const xTicks12 = [0, 0.02, 0.04, 0.06, 0.08, 0.1, 0.12];
const xTicks14 = [0, 0.02, 0.04, 0.06, 0.08, 0.1, 0.12, 0.14];
const xTicks16 = [0, 0.02, 0.04, 0.06, 0.08, 0.1, 0.12, 0.14, 0.16];
const xTicks18 = [0, 0.02, 0.04, 0.06, 0.08, 0.1, 0.12, 0.14, 0.16, 0.18];
const yTicks = [2, 1.5, 1, 0.5, 0, -0.5, -1, -1.5, -2];
const stations = ["0", "2", "4", "6", "8"];
const seriesKinds = ["S", "D", "T"];
const colors = ["#000000", "#ff0000", "#70ad47", "#4472c4", "#d81fb5"];

const FONT = "'Liberation Sans', Arial, Helvetica, sans-serif";
const TXT = "#404040";

type Layout = {
  x0: number; x1: number; y0: number; y1: number;
  bg: [number, number, number, number];
  leg: [number, number, number, number];
  legX: number; legPitch: number; legY: number;
  yTitleX: number;
};

const layouts: Layout[] = [
  { x0: 105, x1: 696, y0: 18, y1: 347, bg: [0, 0, 722, 395], leg: [175, 8, 545, 54], legX: 188, legPitch: 180, legY: 35, yTitleX: 31 },
  { x0: 708.5, x1: 1300, y0: 18, y1: 347, bg: [700, 0, 639, 395], leg: [778, 8, 555, 58], legX: 793, legPitch: 180, legY: 37, yTitleX: 634 },
  { x0: 102, x1: 692, y0: 409, y1: 740, bg: [0, 395, 722, 417], leg: [184, 398, 538, 55], legX: 198, legPitch: 179, legY: 425, yTitleX: 38 },
  { x0: 714.6, x1: 1302, y0: 409, y1: 740, bg: [700, 395, 639, 417], leg: [786, 398, 553, 46], legX: 803, legPitch: 181, legY: 419, yTitleX: 640 },
  { x0: 435, x1: 1029, y0: 822, y1: 1152, bg: [335, 812, 715, 414], leg: [518, 812, 545, 46], legX: 532, legPitch: 181, legY: 831, yTitleX: 368 },
];

const panelData: number[][][] = [[S0, D0, T0], [S2, D2, T2], [S4, D4, T4], [S6, D6, T6], [S8, D8, T8]];
const panelTicks = [xTicks12, xTicks14, xTicks16, xTicks16, xTicks18];

function toPairs(flat: number[]): [number, number][] {
  const out: [number, number][] = [];
  for (let i = 0; i + 1 < flat.length; i += 2) out.push([flat[i], flat[i + 1]]);
  return out;
}

function mix(c: string, t: number) {
  return d3.interpolateRgb(c, "#ffffff")(t);
}

function Marker({ kind, x, y, color, big }: { kind: number; x: number; y: number; color: string; big: boolean }) {
  if (kind === 0) {
    return <circle cx={x} cy={y} r={big ? 4 : 3.6} fill="none" stroke={color} strokeWidth={big ? 1.7 : 1.6} />;
  }
  if (kind === 1) {
    const h = 5;
    return <path d={`M${x - h},${y}H${x + h}M${x},${y - h}V${y + h}`} stroke={color} strokeWidth={big ? 2 : 1.8} fill="none" />;
  }
  const fill = color === "#000000" ? "#9a9a9a" : mix(color, 0.45);
  return <rect x={x - 6.5} y={y - 2.6} width={13} height={5.2} rx={1} fill={fill} stroke={color} strokeWidth={1.2} />;
}

function fmt(v: number) {
  return String(+v.toFixed(2));
}

function Panel({ idx }: { idx: number }) {
  const L = layouts[idx];
  const ticks = panelTicks[idx];
  const color = colors[idx];
  const big = idx === 0;
  const xs = d3.scaleLinear().domain([0, ticks[ticks.length - 1]]).range([L.x0, L.x1]);
  const ys = d3.scaleLinear().domain([-2, 2]).range([L.y1, L.y0]);
  const cx = (L.x0 + L.x1) / 2;
  const cy = (L.y0 + L.y1) / 2;
  return (
    <g>
      <rect x={L.bg[0]} y={L.bg[1]} width={L.bg[2]} height={L.bg[3]} fill="#ffffff" />
      {yTicks.map((t) => (
        <line key={"h" + t} x1={L.x0} x2={L.x1} y1={ys(t)} y2={ys(t)} stroke={t === -2 ? "#bfbfbf" : "#d9d9d9"} strokeWidth={1} />
      ))}
      {ticks.map((t) => (
        <line key={"v" + t} x1={xs(t)} x2={xs(t)} y1={L.y0} y2={L.y1} stroke={t === 0 ? "#bfbfbf" : "#d9d9d9"} strokeWidth={1} />
      ))}
      {yTicks.map((t) => (
        <text key={"yl" + t} x={L.x0 - 20} y={ys(t) + 8.5} textAnchor="end" fontFamily={FONT} fontSize={24} fill={TXT}>
          {fmt(t)}
        </text>
      ))}
      {ticks.map((t) => (
        <text key={"xl" + t} x={xs(t)} y={L.y1 + 40} textAnchor="middle" fontFamily={FONT} fontSize={24} fill={TXT}>
          {fmt(t)}
        </text>
      ))}
      <text transform={`translate(${L.yTitleX},${cy}) rotate(-90)`} textAnchor="middle" fontFamily={FONT} fontSize={24} fill={TXT}>
        y/r'<tspan fontSize={17} dy={7}>1/2</tspan>
      </text>
      <text x={cx} y={L.y1 + 58} textAnchor="middle" fontFamily={FONT} fontSize={24} fill={TXT}>
        u'/U<tspan fontSize={17} dy={7}>m</tspan>
      </text>
      {panelData[idx].map((flat, k) => (
        <g key={"s" + k}>
          {toPairs(flat).map((p, i) => (
            <Marker key={i} kind={k} x={xs(p[0])} y={ys(p[1])} color={color} big={big} />
          ))}
        </g>
      ))}
      <rect x={L.leg[0]} y={L.leg[1]} width={L.leg[2]} height={L.leg[3]} fill="#ffffff" />
      {seriesKinds.map((s, k) => {
        const mx = L.legX + k * L.legPitch;
        return (
          <g key={"lg" + k}>
            {k === 0 ? (
              <circle cx={mx} cy={L.legY} r={3.3} fill="none" stroke={color} strokeWidth={1.5} />
            ) : (
              <Marker kind={k} x={mx} y={L.legY} color={color} big={big} />
            )}
            <text x={mx + 12} y={L.legY + 9} fontFamily={FONT} fontSize={25} fill={TXT}>
              {`x/DeqA = ${stations[idx]} ${s}`}
            </text>
          </g>
        );
      })}
    </g>
  );
}

export default function App() {
  const order = [1, 0, 3, 2, 4];
  return (
    <svg width={1339} height={1226} style={{ position: "absolute", left: 0, top: 0, background: "#ffffff" }}>
      <rect x={0} y={0} width={1339} height={1226} fill="#ffffff" />
      {order.map((i) => (
        <Panel key={i} idx={i} />
      ))}
    </svg>
  );
}
